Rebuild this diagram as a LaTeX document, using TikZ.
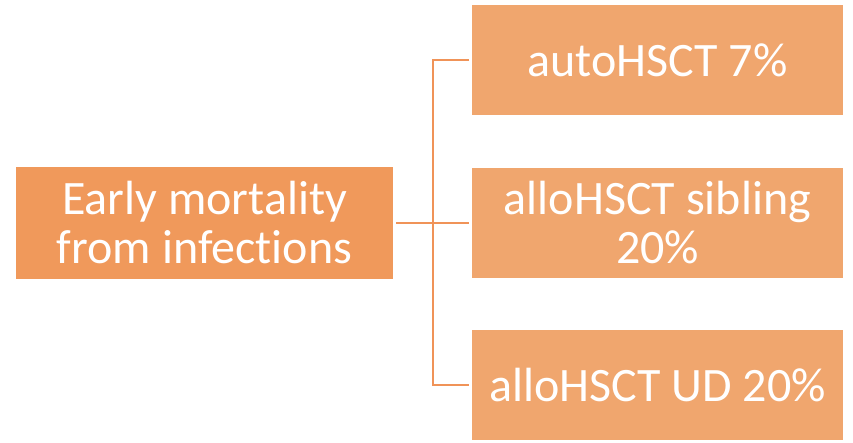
\documentclass[tikz,border=0pt]{standalone}
\usepackage{fontspec}
\setmainfont{Carlito}[RawFeature=-liga]
\definecolor{leftc}{HTML}{F0995B}
\definecolor{rightc}{HTML}{F0A66E}
\definecolor{linec}{HTML}{F09358}
\begin{document}
\begin{tikzpicture}[x=1pt,y=-1pt,
  box/.style={inner sep=0pt,text=white,align=center,font=\fontsize{48}{49}\selectfont},
  conn/.style={draw=linec,line width=2.2pt}]
\useasboundingbox (0,0) rectangle (853,442);
\fill[leftc] (16,167) rectangle (393,279);
\node[box] (L) at (204.5,223) {Early mortality\\from infections};
\coordinate (Lr) at (396,223);
\fill[rightc] (472,5) rectangle (843,115);
\fill[rightc] (472,168) rectangle (843,278);
\fill[rightc] (472,330) rectangle (843,440);
\node[box] (A) at (657.5,60) {autoHSCT 7\%};
\node[box] (B) at (657.5,223) {alloHSCT sibling\\20\%};
\node[box] (C) at (657.5,385) {alloHSCT UD 20\%};
\coordinate (J) at (433,223);
\coordinate (Ae) at (469,60);
\coordinate (Be) at (469,223);
\coordinate (Ce) at (469,385);
\draw[conn] (Lr) -- (Be);
\draw[conn] (Ae) -| (J) |- (Ce);
\end{tikzpicture}
\end{document}
